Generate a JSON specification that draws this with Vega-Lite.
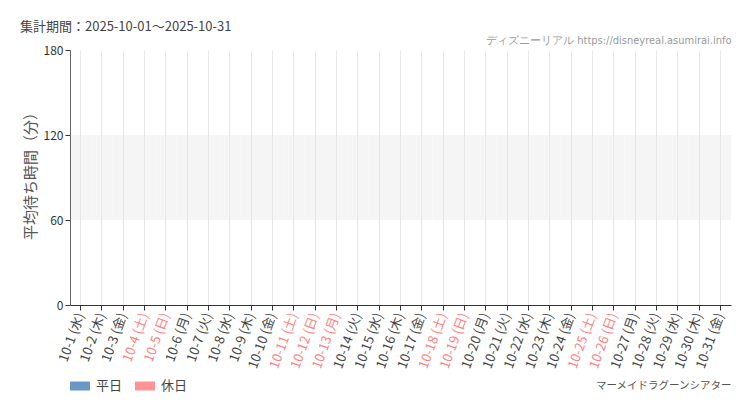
{
  "$schema": "https://vega.github.io/schema/vega-lite/v6.json",
  "width": 661,
  "height": 255,
  "autosize": {"type": "none"},
  "padding": {"left": 70, "top": 50, "right": 19, "bottom": 105},
  "background": "#ffffff",
  "config": {
    "font": "Noto Sans CJK JP",
    "view": {"stroke": null}
  },
  "title": {
    "text": "集計期間：2025-10-01〜2025-10-31",
    "anchor": "start",
    "frame": "group",
    "dx": -50,
    "offset": 0,
    "fontSize": 13,
    "fontWeight": "normal",
    "color": "#444444"
  },
  "data": {
    "values": [
      {"day": "10-1 (水)", "type": "平日", "wait": null},
      {"day": "10-2 (木)", "type": "平日", "wait": null},
      {"day": "10-3 (金)", "type": "平日", "wait": null},
      {"day": "10-4 (土)", "type": "休日", "wait": null},
      {"day": "10-5 (日)", "type": "休日", "wait": null},
      {"day": "10-6 (月)", "type": "平日", "wait": null},
      {"day": "10-7 (火)", "type": "平日", "wait": null},
      {"day": "10-8 (水)", "type": "平日", "wait": null},
      {"day": "10-9 (木)", "type": "平日", "wait": null},
      {"day": "10-10 (金)", "type": "平日", "wait": null},
      {"day": "10-11 (土)", "type": "休日", "wait": null},
      {"day": "10-12 (日)", "type": "休日", "wait": null},
      {"day": "10-13 (月)", "type": "休日", "wait": null},
      {"day": "10-14 (火)", "type": "平日", "wait": null},
      {"day": "10-15 (水)", "type": "平日", "wait": null},
      {"day": "10-16 (木)", "type": "平日", "wait": null},
      {"day": "10-17 (金)", "type": "平日", "wait": null},
      {"day": "10-18 (土)", "type": "休日", "wait": null},
      {"day": "10-19 (日)", "type": "休日", "wait": null},
      {"day": "10-20 (月)", "type": "平日", "wait": null},
      {"day": "10-21 (火)", "type": "平日", "wait": null},
      {"day": "10-22 (水)", "type": "平日", "wait": null},
      {"day": "10-23 (木)", "type": "平日", "wait": null},
      {"day": "10-24 (金)", "type": "平日", "wait": null},
      {"day": "10-25 (土)", "type": "休日", "wait": null},
      {"day": "10-26 (日)", "type": "休日", "wait": null},
      {"day": "10-27 (月)", "type": "平日", "wait": null},
      {"day": "10-28 (火)", "type": "平日", "wait": null},
      {"day": "10-29 (水)", "type": "平日", "wait": null},
      {"day": "10-30 (木)", "type": "平日", "wait": null},
      {"day": "10-31 (金)", "type": "平日", "wait": null}
    ]
  },
  "resolve": {"axis": {"x": "independent"}},
  "layer": [
    {
      "mark": {"type": "bar", "color": "#f5f5f5"},
      "encoding": {
        "x": {
          "field": "day",
          "type": "ordinal",
          "sort": null,
          "scale": {"paddingInner": 0, "paddingOuter": 0},
          "axis": {
            "orient": "top",
            "labels": false,
            "ticks": false,
            "domain": false,
            "grid": false,
            "title": "ディズニーリアル https://disneyreal.asumirai.info",
            "titleFont": "DejaVu Sans Condensed",
            "titleFontSize": 11,
            "titleFontWeight": "normal",
            "titleColor": "#999999",
            "titleAnchor": null,
            "titleX": 661,
            "titleY": -10,
            "titleAlign": "right",
            "titleBaseline": "middle"
          }
        },
        "y": {
          "datum": 60,
          "type": "quantitative",
          "scale": {"domain": [0, 180]},
          "title": "平均待ち時間（分）"
        },
        "y2": {"datum": 120}
      }
    },
    {
      "mark": {"type": "bar", "width": {"band": 0.7}, "invalid": "show"},
      "encoding": {
        "x": {
          "field": "day",
          "type": "ordinal",
          "sort": null,
          "axis": {
            "orient": "bottom",
            "zindex": 1,
            "labelAngle": -70,
            "labelAlign": "right",
            "labelBaseline": "middle",
            "labelFontSize": 13,
            "labelPadding": 3,
            "labelColor": {
              "condition": {
                "test": "test(/[土日]/, datum.value) || datum.value == '10-13 (月)'",
                "value": "#ff8080"
              },
              "value": "#444444"
            },
            "tickColor": "#333333",
            "tickSize": 5,
            "domainColor": "#333333",
            "grid": true,
            "gridColor": "#e6e6e6",
            "title": "マーメイドラグーンシアター",
            "titleFontSize": 10.5,
            "titleFontWeight": "normal",
            "titleColor": "#555555",
            "titleAnchor": null,
            "titleX": 661,
            "titleY": 80,
            "titleAlign": "right",
            "titleBaseline": "middle"
          }
        },
        "y": {
          "field": "wait",
          "type": "quantitative",
          "scale": {"domain": [0, 180]},
          "title": "平均待ち時間（分）",
          "axis": {
            "zindex": 1,
            "values": [0, 60, 120, 180],
            "labelFontSize": 12,
            "labelColor": "#333333",
            "labelPadding": 2,
            "tickColor": "#333333",
            "tickSize": 5,
            "domainColor": "#666666",
            "gridColor": "#e6e6e6",
            "titleFontSize": 15,
            "titleFontWeight": "normal",
            "titleColor": "#555555",
            "titleX": -40,
            "titleY": 122,
            "titleAngle": -90,
            "titleAlign": "center",
            "titleBaseline": "middle"
          }
        },
        "color": {
          "field": "type",
          "type": "nominal",
          "scale": {"domain": ["平日", "休日"], "range": ["#6a98c6", "#ff9494"]},
          "legend": {
            "title": null,
            "orient": "none",
            "direction": "horizontal",
            "legendX": 0,
            "legendY": 326,
            "symbolType": "M-1,-0.45H1V0.45H-1Z",
            "symbolSize": 400,
            "symbolStrokeWidth": 0,
            "symbolOpacity": 1,
            "labelFontSize": 13,
            "labelColor": "#444444",
            "labelOffset": 6,
            "columnPadding": 12
          }
        }
      }
    }
  ]
}
